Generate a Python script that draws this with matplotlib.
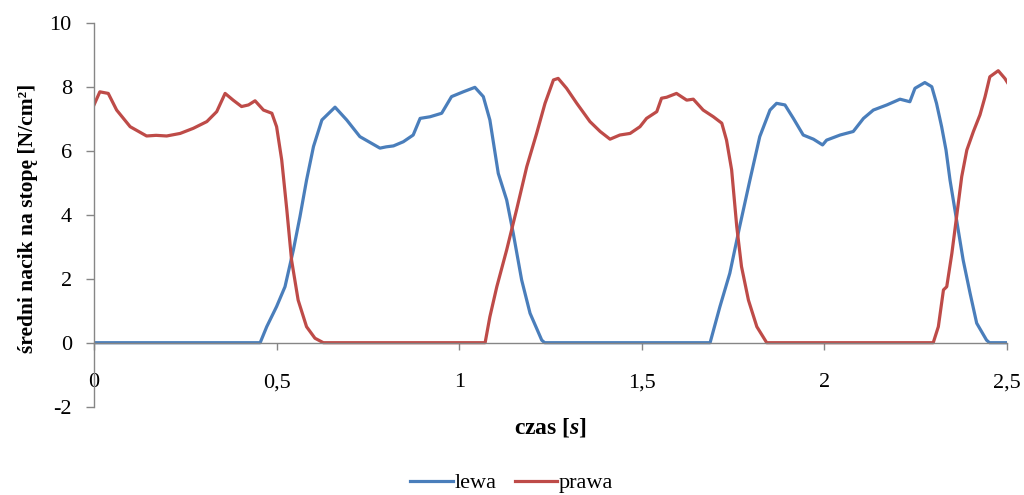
import matplotlib.pyplot as plt

plt.rcParams['font.family'] = ['Liberation Serif', 'DejaVu Serif']
plt.rcParams['axes.unicode_minus'] = False
plt.rcParams['mathtext.fontset'] = 'custom'
plt.rcParams['mathtext.it'] = 'Liberation Serif:italic:bold'
plt.rcParams['mathtext.rm'] = 'Liberation Serif:bold'

# Data
t_lewa = [0, 0.455, 0.473, 0.5, 0.523, 0.546, 0.564, 0.582, 0.601, 0.624, 0.66,
          0.692, 0.728, 0.783, 0.80, 0.82, 0.847, 0.874, 0.893, 0.92, 0.952,
          0.979, 1.011, 1.043, 1.066, 1.084, 1.107, 1.13, 1.148, 1.171, 1.194,
          1.226, 1.234, 1.687, 1.714, 1.741, 1.768, 1.796, 1.823, 1.851, 1.869,
          1.892, 1.915, 1.942, 1.97, 1.995, 2.006, 2.043, 2.079, 2.107, 2.134,
          2.171, 2.207, 2.234, 2.248, 2.275, 2.294, 2.307, 2.321, 2.333, 2.344,
          2.362, 2.38, 2.399, 2.417, 2.444, 2.452, 2.5]
lewa = [0, 0, 0.5, 1.13, 1.75, 2.9, 3.94, 5.08, 6.13, 6.96, 7.36,
        6.96, 6.44, 6.08, 6.12, 6.15, 6.28, 6.49, 7.01, 7.06, 7.17,
        7.69, 7.84, 7.98, 7.69, 6.96, 5.29, 4.46, 3.42, 1.96, 0.92,
        0.08, 0, 0, 1.13, 2.17, 3.63, 5.08, 6.44, 7.27, 7.48,
        7.43, 7.01, 6.49, 6.36, 6.18, 6.33, 6.49, 6.6, 7.01, 7.27,
        7.43, 7.61, 7.53, 7.95, 8.13, 8.0, 7.48, 6.75, 6.02, 5.08,
        3.83, 2.58, 1.54, 0.61, 0.08, 0, 0]

t_prawa = [0, 0.016, 0.039, 0.062, 0.099, 0.144, 0.17, 0.199, 0.236, 0.272,
           0.309, 0.336, 0.359, 0.381, 0.404, 0.423, 0.441, 0.464, 0.487, 0.5,
           0.514, 0.528, 0.541, 0.559, 0.582, 0.605, 0.628, 1.071, 1.084, 1.103,
           1.13, 1.157, 1.185, 1.212, 1.235, 1.258, 1.271, 1.294, 1.322, 1.358,
           1.386, 1.413, 1.44, 1.468, 1.495, 1.513, 1.541, 1.554, 1.568, 1.595,
           1.623, 1.641, 1.668, 1.696, 1.719, 1.732, 1.746, 1.76, 1.773, 1.792,
           1.815, 1.842, 2.298, 2.312, 2.326, 2.335, 2.349, 2.362, 2.376, 2.39,
           2.408, 2.426, 2.44, 2.453, 2.476, 2.494, 2.503]
prawa = [7.43, 7.84, 7.79, 7.27, 6.75, 6.46, 6.48, 6.46, 6.54, 6.70,
         6.91, 7.22, 7.79, 7.58, 7.38, 7.43, 7.56, 7.27, 7.17, 6.75,
         5.71, 4.15, 2.58, 1.33, 0.5, 0.14, 0, 0, 0.81, 1.75,
         2.9, 4.15, 5.5, 6.54, 7.48, 8.21, 8.26, 7.95, 7.48, 6.91,
         6.6, 6.36, 6.49, 6.54, 6.75, 7.01, 7.22, 7.64, 7.67, 7.79,
         7.58, 7.61, 7.27, 7.06, 6.86, 6.33, 5.40, 3.63, 2.38, 1.33,
         0.5, 0, 0, 0.5, 1.65, 1.75, 2.79, 3.94, 5.19, 6.02,
         6.6, 7.12, 7.69, 8.31, 8.5, 8.26, 8.1]

x_ticks = [0, 0.5, 1, 1.5, 2, 2.5]
x_tick_labels = ['0', '0,5', '1', '1,5', '2', '2,5']
y_ticks = [-2, 0, 2, 4, 6, 8, 10]

# Figure
fig = plt.figure(figsize=(10.24, 4.95), dpi=100)
ax = fig.add_axes([94 / 1024, 88.3 / 495, 913 / 1024, 384 / 495])

ax.plot(t_lewa, lewa, color='#4A7EBB', lw=2.3, label='lewa')
ax.plot(t_prawa, prawa, color='#BE4B48', lw=2.3, label='prawa')

ax.set_xlim(0, 2.5)
ax.set_ylim(-2, 10)
ax.set_xticks(x_ticks)
ax.set_xticklabels(x_tick_labels)
ax.set_yticks(y_ticks)

# axes like Excel: x axis crossing at 0
for s in ['top', 'right']:
    ax.spines[s].set_visible(False)
ax.spines['bottom'].set_position(('data', 0))
for s in ['left', 'bottom']:
    ax.spines[s].set_color('#868686')
    ax.spines[s].set_linewidth(1)
ax.tick_params(axis='x', direction='out', length=5, width=1, color='#868686',
               pad=17, labelsize=16)
ax.tick_params(axis='y', direction='out', length=6, width=1, color='#868686',
               pad=10, labelsize=16)

ax.set_xlabel(r'czas [$\mathit{s}$]', fontsize=17, fontweight='bold')
ax.xaxis.set_label_coords(0.5, -0.053)
ax.xaxis.label.set_va('center')
ax.set_ylabel('średni nacik na stopę [N/cm²]', fontsize=15.5, fontweight='bold')
ax.yaxis.set_label_coords(-0.072, 0.49)
ax.yaxis.label.set_va('center')

fig.legend(loc='center', bbox_to_anchor=(0.5, 1 - 483 / 495), ncol=2,
           frameon=False, fontsize=16, handlelength=1.9, handletextpad=0.1,
           columnspacing=0.8)

fig.savefig('out.png', dpi=100)
